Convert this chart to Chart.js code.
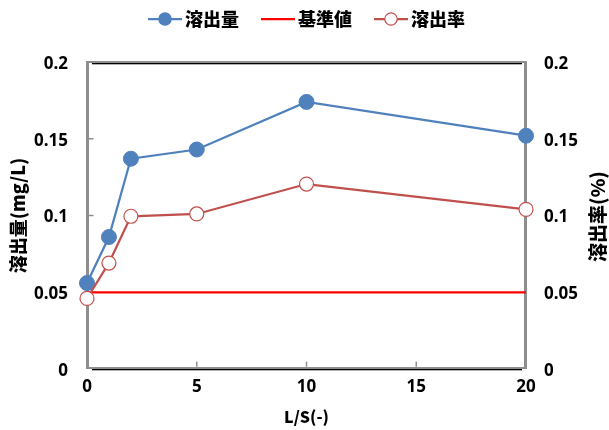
<!DOCTYPE html>
<html>
<head>
<meta charset="utf-8">
<script src="https://cdn.jsdelivr.net/npm/chart.js@4/dist/chart.umd.min.js"></script>
<style>
  html, body { margin: 0; padding: 0; background: #ffffff; }
  #wrap { width: 609px; height: 430px; }
</style>
</head>
<body>
<div id="wrap"><canvas id="c" width="609" height="430"></canvas></div>
<script>
// Leaching test results versus liquid/solid ratio
const lsRatio = [0, 1, 2, 5, 10, 20];
const elutionAmount = [0.056, 0.086, 0.137, 0.143, 0.174, 0.152];
const elutionRate = [0.046, 0.069, 0.0995, 0.101, 0.1205, 0.104];
const standardX = [0, 20];
const standardValue = [0.05, 0.05];
const seriesNames = ['溶出量', '基準値', '溶出率'];
const xTickLabels = ['0', '5', '10', '15', '20'];
const yTickLabels = ['0', '0.05', '0.1', '0.15', '0.2'];
const axisTitles = ['L/S(-)', '溶出量(mg/L)', '溶出率(%)'];

const BLUE = '#4F81BD';
const RED = '#C0504D';
const STD = '#FF0000';
const FRAME = '#8E8E8E';
const JP = '"Noto Sans CJK JP", sans-serif';
const NUM = '"Noto Sans", sans-serif';

Chart.defaults.color = '#000';
Chart.defaults.font.family = NUM;

// Legend symbol: a short line with an optional circle marker
function legendIcon(color, marker) {
  const c = document.createElement('canvas');
  c.width = 58; c.height = 18;
  const g = c.getContext('2d');
  g.strokeStyle = color;
  g.lineWidth = 2.25;
  g.beginPath(); g.moveTo(24, 9); g.lineTo(58, 9); g.stroke();
  if (marker) {
    g.beginPath();
    g.arc(41, 9, 6.2, 0, Math.PI * 2);
    g.fillStyle = marker === 'fill' ? color : '#ffffff';
    g.fill();
    g.lineWidth = 1.2;
    g.stroke();
  }
  return c;
}
const legendIcons = [legendIcon(BLUE, 'fill'), legendIcon(STD, null), legendIcon(RED, 'open')];

// Plot-area frame, axis lines and inward tick marks
const framePlugin = {
  id: 'frame',
  beforeDatasetsDraw(chart) {
    const ctx = chart.ctx;
    const { left: L, right: R, top: T, bottom: B } = chart.chartArea;
    ctx.save();
    ctx.fillStyle = FRAME;
    ctx.fillRect(L - 1, T - 1, R - L + 2, 2);
    ctx.fillRect(L - 1, B - 2, R - L + 2, 2);
    ctx.fillRect(L - 1, T - 1, 3, B - T + 1);
    ctx.fillRect(R - 2, T - 1, 3, B - T + 1);
    ctx.fillStyle = '#000';
    ctx.fillRect(L + 5, T + 1, R - L - 9, 1.3);
    ctx.fillRect(L + 5, B, R - L - 9, 1.3);
    ctx.fillStyle = FRAME;
    const ys = chart.scales.y;
    ys.ticks.forEach(t => {
      if (t.value <= ys.min || t.value >= ys.max - 1e-9) return;
      const py = ys.getPixelForValue(t.value);
      ctx.fillRect(L + 1, py - 0.75, 5.5, 1.5);
    });
    const xs = chart.scales.x;
    xs.ticks.forEach(t => {
      if (t.value <= xs.min || t.value >= xs.max) return;
      const px = xs.getPixelForValue(t.value);
      ctx.fillRect(px - 0.75, B - 7.3, 1.5, 5);
    });
    ctx.restore();
  },
  afterDraw(chart) {
    // secondary axis title, reading bottom to top
    const ctx = chart.ctx;
    const { top: T, bottom: B } = chart.chartArea;
    ctx.save();
    ctx.translate(598, (T + B) / 2 + 1);
    ctx.rotate(-Math.PI / 2);
    ctx.font = '900 19px ' + JP;
    ctx.fillStyle = '#000';
    ctx.textAlign = 'center';
    ctx.textBaseline = 'middle';
    ctx.fillText(axisTitles[2], 0, 0);
    ctx.restore();
  }
};

const tickFont = { family: NUM, size: 17, weight: 'bold' };

new Chart(document.getElementById('c'), {
  type: 'line',
  data: {
    datasets: [
      {
        label: seriesNames[0],
        data: lsRatio.map((x, i) => ({ x, y: elutionAmount[i] })),
        borderColor: BLUE,
        backgroundColor: BLUE,
        borderWidth: 2.25,
        pointRadius: 7.5,
        pointHoverRadius: 7.5,
        pointBorderWidth: 1,
        pointBackgroundColor: BLUE,
        pointBorderColor: BLUE,
        yAxisID: 'y',
        order: 3,
        clip: false
      },
      {
        label: seriesNames[1],
        data: standardX.map((x, i) => ({ x, y: standardValue[i] })),
        borderColor: STD,
        backgroundColor: STD,
        borderWidth: 2.25,
        pointRadius: 0,
        yAxisID: 'y',
        order: 2,
        clip: false
      },
      {
        label: seriesNames[2],
        data: lsRatio.map((x, i) => ({ x, y: elutionRate[i] })),
        borderColor: RED,
        backgroundColor: '#ffffff',
        borderWidth: 2.25,
        pointRadius: 7,
        pointHoverRadius: 7,
        pointBorderWidth: 1.2,
        pointBackgroundColor: '#ffffff',
        pointBorderColor: RED,
        yAxisID: 'y2',
        order: 1,
        clip: false
      }
    ]
  },
  options: {
    responsive: false,
    animation: false,
    devicePixelRatio: 1,
    layout: { padding: { top: 6, left: 0, right: 14, bottom: 0 } },
    plugins: {
      tooltip: { enabled: false },
      legend: {
        position: 'top',
        align: 'center',
        labels: {
          usePointStyle: true,
          pointStyleWidth: 46,
          padding: 4,
          color: '#000',
          font: { family: JP, size: 18, weight: '900' },
          sort: (a, b) => a.datasetIndex - b.datasetIndex,
          generateLabels(chart) {
            const items = Chart.defaults.plugins.legend.labels.generateLabels(chart);
            items.forEach(it => { it.pointStyle = legendIcons[it.datasetIndex]; });
            return items;
          }
        }
      }
    },
    scales: {
      x: {
        type: 'linear',
        position: 'bottom',
        min: 0,
        max: 20,
        ticks: {
          stepSize: 5,
          padding: 8,
          maxRotation: 0,
          color: '#000',
          font: tickFont,
          callback: (v, i) => xTickLabels[i]
        },
        grid: { display: false, drawTicks: false },
        border: { display: false },
        title: {
          display: true,
          text: axisTitles[0],
          color: '#000',
          font: { family: JP, size: 16, weight: '900' },
          padding: { top: 0, bottom: 3 }
        },
        afterFit: s => { s.height = 61; }
      },
      xTop: {
        type: 'linear',
        axis: 'x',
        position: 'top',
        min: 0,
        max: 20,
        ticks: { display: false },
        grid: { display: false, drawTicks: false },
        border: { display: false },
        afterFit: s => { s.height = 24; }
      },
      y: {
        type: 'linear',
        position: 'left',
        min: 0,
        max: 0.2,
        ticks: {
          stepSize: 0.05,
          padding: 19,
          labelOffset: 2,
          color: '#000',
          font: tickFont,
          callback: (v, i) => yTickLabels[i]
        },
        grid: { display: false, drawTicks: false },
        border: { display: false },
        title: {
          display: true,
          text: axisTitles[1],
          color: '#000',
          font: { family: JP, size: 18, weight: '900' },
          padding: { top: 7, bottom: 0 }
        },
        afterFit: s => { s.width = 87; }
      },
      y2: {
        type: 'linear',
        position: 'right',
        min: 0,
        max: 0.2,
        ticks: {
          stepSize: 0.05,
          padding: 18,
          labelOffset: 2,
          color: '#000',
          font: tickFont,
          callback: (v, i) => yTickLabels[i]
        },
        grid: { display: false, drawTicks: false },
        border: { display: false },
        afterFit: s => { s.width = 69; }
      }
    }
  },
  plugins: [framePlugin]
});
</script>
</body>
</html>
